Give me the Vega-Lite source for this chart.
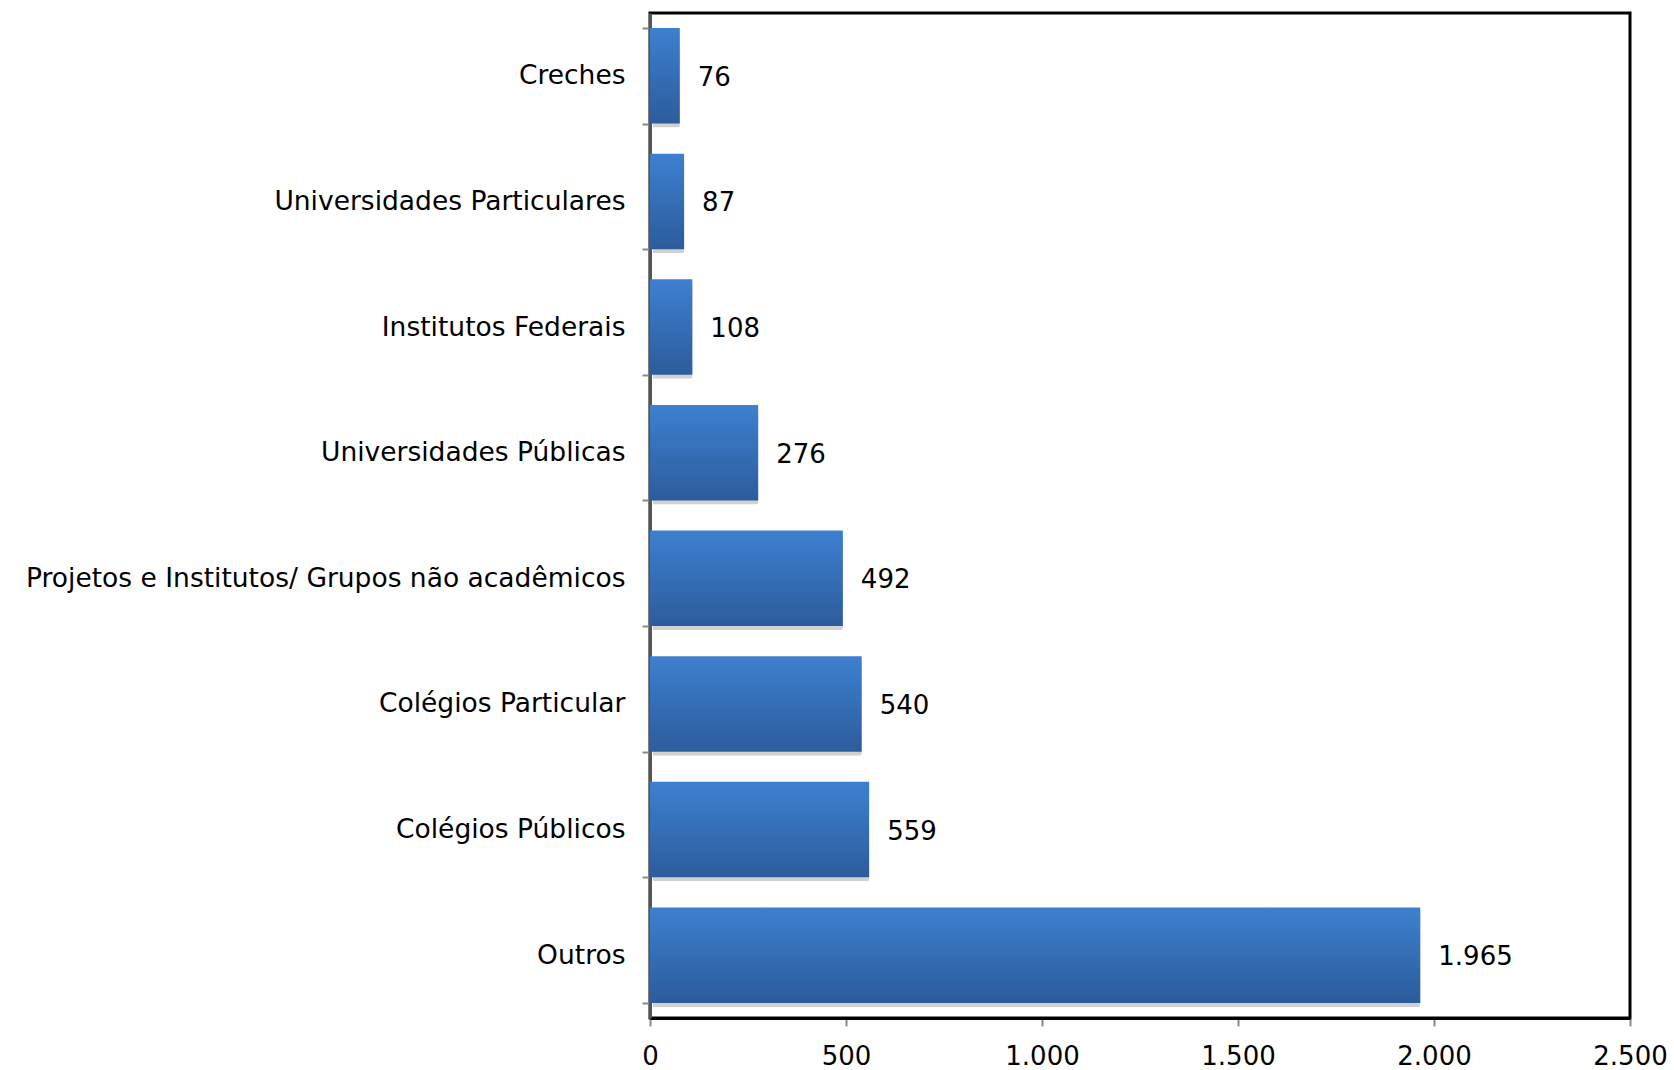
{
  "$schema": "https://vega.github.io/schema/vega-lite/v6.json",
  "autosize": {"type": "none"},
  "width": 980,
  "height": 1005,
  "padding": {"left": 650, "top": 13, "right": 44, "bottom": 52},
  "background": "white",
  "config": {
    "locale": {"number": {"decimal": ",", "thousands": ".", "grouping": [3], "currency": ["R$", ""]}},
    "view": {"stroke": "#000000", "strokeWidth": 3},
    "font": "DejaVu Sans"
  },
  "data": {
    "values": [
      {"categoria": "Creches", "valor": 76},
      {"categoria": "Universidades Particulares", "valor": 87},
      {"categoria": "Institutos Federais", "valor": 108},
      {"categoria": "Universidades Públicas", "valor": 276},
      {"categoria": "Projetos e Institutos/ Grupos não acadêmicos", "valor": 492},
      {"categoria": "Colégios Particular", "valor": 540},
      {"categoria": "Colégios Públicos", "valor": 559},
      {"categoria": "Outros", "valor": 1965}
    ]
  },
  "encoding": {
    "y": {
      "field": "categoria",
      "type": "nominal",
      "sort": {"field": "valor", "order": "ascending"},
      "scale": {"paddingInner": 0.24, "paddingOuter": 0.12},
      "axis": {
        "title": null,
        "labelFont": "DejaVu Sans",
        "labelFontSize": 26.5,
        "labelColor": "#000000",
        "labelPadding": 17,
        "tickBand": "extent",
        "tickSize": 8,
        "tickColor": "#888888",
        "tickWidth": 2,
        "domainColor": "#555555",
        "domainWidth": 3,
        "labelLimit": 700
      }
    },
    "x": {
      "field": "valor",
      "type": "quantitative",
      "scale": {"domain": [0, 2500], "nice": false},
      "axis": {
        "title": null,
        "values": [0, 500, 1000, 1500, 2000, 2500],
        "format": ",d",
        "grid": false,
        "labelFlush": false,
        "labelFont": "DejaVu Sans",
        "labelFontSize": 26,
        "labelColor": "#000000",
        "labelPadding": 17,
        "tickSize": 8,
        "tickColor": "#888888",
        "tickWidth": 2,
        "domainColor": "#000000",
        "domainWidth": 3
      }
    }
  },
  "layer": [
    {
      "mark": {"type": "bar", "color": "#000000", "opacity": 0.18, "xOffset": 3, "yOffset": 4, "cornerRadius": 2}
    },
    {
      "mark": {
        "type": "bar",
        "color": {
          "gradient": "linear",
          "x1": 0, "y1": 0, "x2": 0, "y2": 1,
          "stops": [
            {"offset": 0, "color": "#3d80d0"},
            {"offset": 1, "color": "#2c5c9c"}
          ]
        }
      }
    },
    {
      "mark": {"type": "text", "align": "left", "baseline": "middle", "dx": 18, "dy": 2, "fontSize": 26, "font": "DejaVu Sans", "color": "#000000"},
      "encoding": {
        "text": {"field": "valor", "type": "quantitative", "format": ",d"}
      }
    }
  ]
}
